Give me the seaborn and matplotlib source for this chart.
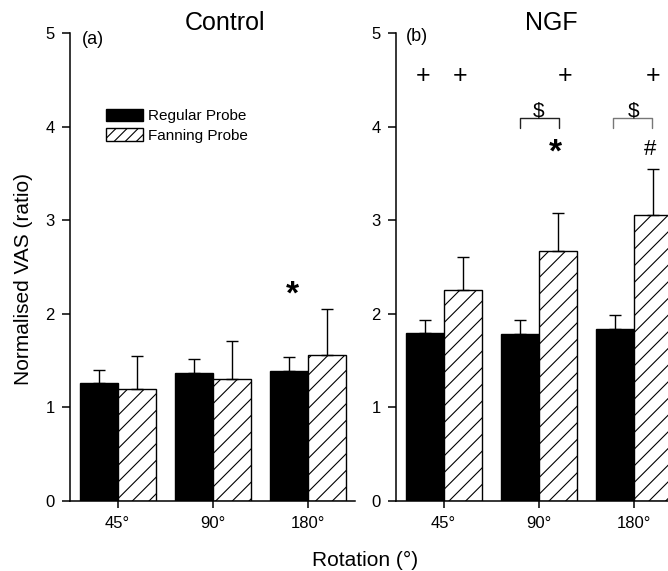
import numpy as np
import pandas as pd
import matplotlib
matplotlib.use("Agg")
import matplotlib.pyplot as plt
from matplotlib.patches import Patch
import seaborn as sns

# ---------------- data ----------------
rotations = ["45°", "90°", "180°"]
probes = ["Regular Probe", "Fanning Probe"]

ctrl_regular = [1.26, 1.37, 1.39]
ctrl_regular_err = [0.14, 0.15, 0.15]
ctrl_fanning = [1.20, 1.30, 1.56]
ctrl_fanning_err = [0.35, 0.41, 0.49]

ngf_regular = [1.79, 1.78, 1.84]
ngf_regular_err = [0.14, 0.15, 0.15]
ngf_fanning = [2.25, 2.67, 3.06]
ngf_fanning_err = [0.36, 0.41, 0.49]

panel_titles = ["Control", "NGF"]
panel_letters = ["(a)", "(b)"]
yticks = [0, 1, 2, 3, 4, 5]

# annotation marks (data coords: category position, value)
ctrl_star = (1.845, 2.20)
ngf_plus_x = [-0.22, 0.17, 1.275, 2.205]
ngf_plus_y = 4.54
ngf_dollar_x = [1.0, 2.0]
ngf_dollar_y = 4.17
ngf_brackets = [(0.81, 1.22), (1.785, 2.19)]
ngf_bracket_top = 4.09
ngf_bracket_bottom = 3.98
ngf_star = (1.18, 3.72)
ngf_hash = (2.17, 3.75)


def long_df(reg, fan):
    return pd.DataFrame({
        "rotation": rotations * 2,
        "probe": [probes[0]] * 3 + [probes[1]] * 3,
        "value": list(reg) + list(fan),
    })


sns.set_style("ticks")
plt.rcParams["font.family"] = ["Liberation Sans", "DejaVu Sans"]
plt.rcParams["hatch.linewidth"] = 0.8
plt.rcParams["axes.linewidth"] = 1.1
for k in ["text.color", "axes.labelcolor", "xtick.color", "ytick.color",
          "axes.edgecolor"]:
    plt.rcParams[k] = "black"

fig = plt.figure(figsize=(6.68, 5.71), dpi=100)
ax_w = 285 / 668
ax_h = 468 / 571
ax_b = 70 / 571
ax1 = fig.add_axes([70 / 668, ax_b, ax_w, ax_h])
ax2 = fig.add_axes([396 / 668, ax_b, ax_w, ax_h])

panels = [
    (ax1, ctrl_regular, ctrl_regular_err, ctrl_fanning, ctrl_fanning_err),
    (ax2, ngf_regular, ngf_regular_err, ngf_fanning, ngf_fanning_err),
]

for i, (ax, reg, reg_err, fan, fan_err) in enumerate(panels):
    df = long_df(reg, fan)
    sns.barplot(data=df, x="rotation", y="value", hue="probe",
                hue_order=probes, order=rotations,
                palette={probes[0]: "black", probes[1]: "white"},
                edgecolor="black", linewidth=1.0, errorbar=None,
                legend=False, saturation=1, ax=ax)
    # hatch on fanning bars
    for bar in ax.containers[1]:
        bar.set_hatch("//")
    # error bars (upper only)
    for cont, err in zip(ax.containers, [reg_err, fan_err]):
        xs = [b.get_x() + b.get_width() / 2 for b in cont]
        hs = [b.get_height() for b in cont]
        ax.errorbar(xs, hs, yerr=[np.zeros(len(err)), err], fmt="none",
                    ecolor="black", elinewidth=1.0, capsize=4, capthick=1.0,
                    zorder=1)
    ax.set_xlim(-0.5, 2.5)
    ax.set_ylim(0, 5)
    ax.set_yticks(yticks)
    ax.set_xlabel("")
    ax.set_ylabel("")
    sns.despine(ax=ax)
    ax.tick_params(axis="y", length=6, width=1.1, pad=5, labelsize=12)
    ax.tick_params(axis="x", length=5, width=1.1, pad=6, labelsize=12)
    ax.text(0.544, 1.022, panel_titles[i], transform=ax.transAxes,
            ha="center", va="center", fontsize=18)
    ax.text(-0.38 if i == 0 else -0.4, 4.93 if i == 0 else 4.96, panel_letters[i],
            ha="left", va="center", fontsize=13)

# legend
handles = [Patch(facecolor="black", edgecolor="black", label=probes[0]),
           Patch(facecolor="white", edgecolor="black", hatch="///", label=probes[1])]
ax1.legend(handles=handles, loc="upper left", bbox_to_anchor=(0.126, 0.838),
           frameon=False, fontsize=11, handlelength=2.4, handleheight=0.9,
           handletextpad=0.35, labelspacing=0.3, borderpad=0, borderaxespad=0)

# annotations
ax1.text(*ctrl_star, "*", ha="center", va="center", fontsize=24, fontweight="bold")
for x in ngf_plus_x:
    ax2.text(x, ngf_plus_y, "+", ha="center", va="center", fontsize=18)
for x in ngf_dollar_x:
    ax2.text(x, ngf_dollar_y, "$", ha="center", va="center", fontsize=15)
for (x0, x1), c in zip(ngf_brackets, ["#222222", "#777777"]):
    ax2.plot([x0, x0, x1, x1],
             [ngf_bracket_bottom, ngf_bracket_top, ngf_bracket_top, ngf_bracket_bottom],
             color=c, lw=1.0, clip_on=False)
ax2.text(*ngf_star, "*", ha="center", va="center", fontsize=24, fontweight="bold")
ax2.text(*ngf_hash, "#", ha="center", va="center", fontsize=16)

fig.text(24 / 668, 1 - 279 / 571, "Normalised VAS (ratio)", rotation=90,
         ha="center", va="center", fontsize=15)
fig.text(365 / 668, 1 - 560 / 571, "Rotation (°)", ha="center", va="center",
         fontsize=15)

fig.savefig("out.png", dpi=100)
